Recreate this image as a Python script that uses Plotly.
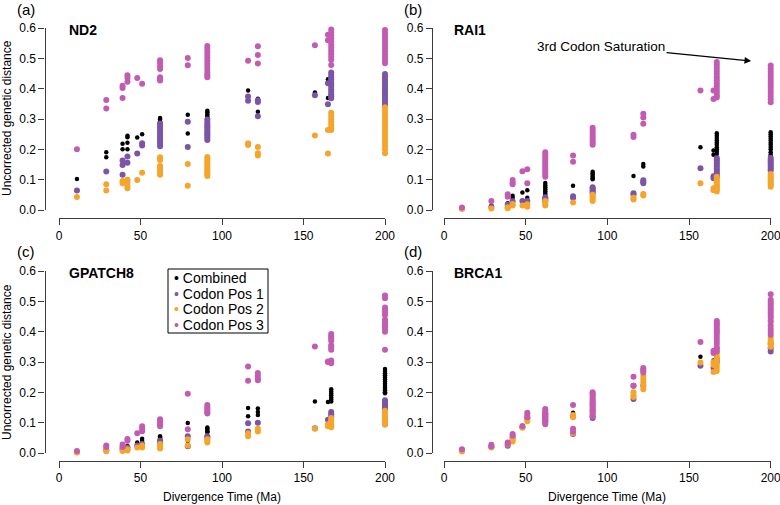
import plotly.graph_objects as go

W, H = 780, 505

# ---------------- data (divergence time Ma -> list of distances) ----------------
ND2_combined = {11: [0.102], 29: [0.19, 0.174], 39: [0.218, 0.200], 42: [0.245, 0.240, 0.222, 0.200],
                48: [0.239], 51: [0.250], 62: [0.303, 0.298, 0.292, 0.285, 0.278, 0.27, 0.262],
                79: [0.314, 0.252], 91: [0.327, 0.322, 0.316, 0.31, 0.305, 0.298, 0.29],
                116: [0.394], 122: [0.367, 0.360, 0.324], 157: [0.387], 165: [0.431, 0.369],
                167: [0.44, 0.42, 0.40], 200: [0.42, 0.40, 0.38, 0.36, 0.346]}
ND2_pos1 = {11: [0.064], 29: [0.127], 39: [0.163, 0.148, 0.116], 42: [0.176, 0.156], 48: [0.186],
            51: [0.220, 0.213],
            62: [0.285, 0.278, 0.27, 0.262, 0.255, 0.248, 0.24, 0.232, 0.225, 0.218, 0.21],
            79: [0.291, 0.208],
            91: [0.298, 0.29, 0.283, 0.276, 0.27, 0.263, 0.256, 0.25, 0.244, 0.237, 0.231],
            116: [0.374, 0.360], 122: [0.362, 0.356, 0.309], 157: [0.378], 165: [0.418, 0.349],
            167: [0.453, 0.445, 0.437, 0.43, 0.422, 0.414, 0.406, 0.398, 0.39, 0.382, 0.375, 0.368],
            200: [0.448, 0.44, 0.432, 0.424, 0.416, 0.408, 0.4, 0.392, 0.384, 0.376, 0.368, 0.36, 0.352, 0.346]}
ND2_pos2 = {11: [0.043], 29: [0.085, 0.064], 39: [0.096, 0.088], 42: [0.100, 0.092, 0.080, 0.072],
            48: [0.099], 51: [0.123], 62: [0.174, 0.165, 0.145, 0.14, 0.132, 0.125, 0.12, 0.116],
            79: [0.152, 0.080], 91: [0.175, 0.168, 0.16, 0.152, 0.145, 0.138, 0.13, 0.124, 0.118, 0.112],
            116: [0.220, 0.214], 122: [0.208, 0.187, 0.180], 157: [0.246], 165: [0.264, 0.186],
            167: [0.321, 0.31, 0.3, 0.29, 0.28, 0.27, 0.264],
            200: [0.339, 0.33, 0.32, 0.31, 0.3, 0.29, 0.28, 0.27, 0.26, 0.25, 0.24, 0.23, 0.22, 0.21, 0.2, 0.187]}
ND2_pos3 = {11: [0.200], 29: [0.363, 0.335], 39: [0.410, 0.402, 0.369], 42: [0.444, 0.435, 0.423],
            48: [0.435], 51: [0.416], 62: [0.494, 0.485, 0.474, 0.465, 0.438, 0.432, 0.427],
            79: [0.501, 0.477],
            91: [0.541, 0.532, 0.522, 0.512, 0.502, 0.492, 0.482, 0.472, 0.462, 0.452, 0.444, 0.438],
            116: [0.609, 0.492], 122: [0.540, 0.511, 0.483], 157: [0.543], 165: [0.613, 0.578, 0.56],
            167: [0.616, 0.605, 0.595, 0.585, 0.575, 0.565, 0.555, 0.545, 0.535, 0.525, 0.515, 0.505, 0.495, 0.478],
            200: [0.613, 0.603, 0.593, 0.583, 0.573, 0.563, 0.553, 0.543, 0.533, 0.523, 0.513, 0.503, 0.494, 0.484]}

RAI1_combined = {11: [0.006], 29: [0.015], 39: [0.022], 42: [0.047, 0.040], 48: [0.058], 51: [0.065, 0.040],
                 62: [0.089, 0.082, 0.075, 0.068, 0.062, 0.056, 0.05], 79: [0.080],
                 91: [0.126, 0.12, 0.115, 0.11, 0.105, 0.101], 116: [0.112], 122: [0.152, 0.143],
                 157: [0.207], 165: [0.196, 0.182],
                 167: [0.253, 0.245, 0.237, 0.23, 0.222, 0.215, 0.207, 0.2, 0.192, 0.185],
                 200: [0.256, 0.25, 0.243, 0.236, 0.229, 0.222, 0.215, 0.208, 0.2, 0.19, 0.182, 0.178]}
RAI1_pos1 = {11: [0.005], 29: [0.01], 39: [0.018], 42: [0.029], 48: [0.030], 51: [0.030],
             62: [0.042, 0.038, 0.034, 0.03], 79: [0.045, 0.040], 91: [0.075, 0.07, 0.065, 0.06, 0.055],
             116: [0.055, 0.050], 122: [0.098, 0.093, 0.088], 157: [0.138], 165: [0.111, 0.105],
             167: [0.171, 0.164, 0.157, 0.15, 0.143, 0.136, 0.129, 0.122, 0.115, 0.11],
             200: [0.172, 0.166, 0.16, 0.154, 0.148, 0.142, 0.136, 0.13]}
RAI1_pos2 = {11: [0.004], 29: [0.005], 39: [0.009, 0.006], 42: [0.020, 0.015], 48: [0.015], 51: [0.019, 0.011],
             62: [0.03, 0.025, 0.02, 0.015], 79: [0.025], 91: [0.05, 0.045, 0.04, 0.035, 0.03],
             116: [0.040, 0.035], 122: [0.053, 0.048], 157: [0.088], 165: [0.072, 0.065],
             167: [0.11, 0.104, 0.098, 0.092, 0.086, 0.08, 0.074, 0.068, 0.061],
             200: [0.119, 0.113, 0.107, 0.101, 0.095, 0.089, 0.083, 0.077]}
RAI1_pos3 = {11: [0.008], 29: [0.030], 39: [0.052, 0.044], 42: [0.099, 0.090, 0.085], 48: [0.128],
             51: [0.134, 0.088],
             62: [0.19, 0.182, 0.174, 0.166, 0.158, 0.15, 0.142, 0.134, 0.126, 0.118, 0.11],
             79: [0.180, 0.159], 91: [0.271, 0.262, 0.254, 0.246, 0.238, 0.23, 0.222, 0.215],
             116: [0.248, 0.241], 122: [0.317, 0.305, 0.284], 157: [0.394], 165: [0.394, 0.366],
             167: [0.488, 0.478, 0.468, 0.458, 0.448, 0.438, 0.428, 0.418, 0.408, 0.398, 0.388, 0.378, 0.371],
             200: [0.476, 0.466, 0.456, 0.446, 0.436, 0.426, 0.416, 0.406, 0.396, 0.386, 0.376, 0.366, 0.355]}

GPATCH8_combined = {11: [0.004], 29: [0.015], 39: [0.02], 42: [0.023], 48: [0.035], 51: [0.047, 0.040],
                    62: [0.055, 0.051, 0.048, 0.045], 79: [0.099, 0.040], 91: [0.084, 0.08, 0.076, 0.072, 0.068],
                    116: [0.148, 0.121], 122: [0.147, 0.135, 0.125], 157: [0.170], 165: [0.168],
                    167: [0.21, 0.203, 0.196, 0.19, 0.183, 0.176, 0.17],
                    200: [0.277, 0.27, 0.263, 0.256, 0.249, 0.242, 0.235, 0.228, 0.221, 0.214, 0.207, 0.2, 0.197]}
GPATCH8_pos1 = {11: [0.003], 29: [0.01], 39: [0.015], 42: [0.018], 48: [0.025], 51: [0.03],
                62: [0.04, 0.035, 0.03], 79: [0.055, 0.022], 91: [0.055, 0.05], 116: [0.098, 0.071],
                122: [0.100], 157: [0.082], 165: [0.110], 167: [0.135, 0.128, 0.12],
                200: [0.174, 0.168, 0.162, 0.156, 0.15, 0.145]}
GPATCH8_pos2 = {11: [0.002], 29: [0.008, 0.006], 39: [0.010, 0.007], 42: [0.012, 0.008], 48: [0.018],
                51: [0.025, 0.018], 62: [0.03, 0.025, 0.02, 0.015], 79: [0.045, 0.025], 91: [0.045, 0.04, 0.035],
                116: [0.065, 0.055], 122: [0.080, 0.071], 157: [0.080], 165: [0.095, 0.088],
                167: [0.115, 0.108, 0.1, 0.092, 0.085],
                200: [0.139, 0.133, 0.127, 0.121, 0.115, 0.109, 0.103, 0.097, 0.093]}
GPATCH8_pos3 = {11: [0.007], 29: [0.025, 0.020], 39: [0.028, 0.020], 42: [0.046, 0.040], 48: [0.065],
                51: [0.088, 0.080, 0.072], 62: [0.111, 0.106, 0.1, 0.094, 0.088], 79: [0.195, 0.078],
                91: [0.158, 0.152, 0.146, 0.14, 0.134, 0.13], 116: [0.285, 0.238],
                122: [0.264, 0.255, 0.245, 0.240], 157: [0.351], 165: [0.302, 0.300],
                167: [0.392, 0.385, 0.378, 0.37, 0.355, 0.348, 0.34, 0.305, 0.296],
                200: [0.519, 0.51, 0.48, 0.472, 0.465, 0.455, 0.44, 0.432, 0.425, 0.418, 0.41, 0.4, 0.34]}

BRCA1_combined = {11: [0.008], 29: [0.022], 39: [0.028], 42: [0.048], 48: [0.085], 51: [0.125], 62: [0.12],
                  79: [0.133], 91: [0.13], 116: [0.2], 122: [0.229], 157: [0.317], 165: [0.305],
                  167: [0.39, 0.352, 0.303], 200: [0.44, 0.42, 0.4, 0.38, 0.36]}
BRCA1_pos1 = {11: [0.008], 29: [0.020], 39: [0.024], 42: [0.050], 48: [0.085], 51: [0.115],
              62: [0.13, 0.12, 0.11], 79: [0.12, 0.063], 91: [0.13, 0.122, 0.115], 116: [0.222, 0.178],
              122: [0.222], 157: [0.288], 165: [0.280], 167: [0.31, 0.3], 200: [0.36, 0.345, 0.335]}
BRCA1_pos2 = {11: [0.005], 29: [0.018], 39: [0.028], 42: [0.045, 0.038], 48: [0.083], 51: [0.110, 0.105],
              62: [0.125, 0.115, 0.105], 79: [0.125, 0.118, 0.065], 91: [0.185, 0.16, 0.14, 0.125],
              116: [0.200, 0.190, 0.185], 122: [0.255, 0.245, 0.235, 0.225, 0.21], 157: [0.298],
              165: [0.300, 0.290, 0.267], 167: [0.35, 0.34, 0.33, 0.32, 0.31, 0.3, 0.29, 0.28, 0.27],
              200: [0.432, 0.38, 0.372, 0.365, 0.358, 0.35]}
BRCA1_pos3 = {11: [0.012], 29: [0.027, 0.022], 39: [0.035, 0.030], 42: [0.063, 0.058], 48: [0.089],
              51: [0.133, 0.125, 0.118],
              62: [0.145, 0.14, 0.135, 0.13, 0.125, 0.12, 0.115, 0.11, 0.105, 0.1, 0.095],
              79: [0.158, 0.080, 0.070],
              91: [0.2, 0.195, 0.19, 0.18, 0.175, 0.17, 0.165, 0.16, 0.155, 0.15, 0.145, 0.14, 0.135, 0.12],
              116: [0.251, 0.222], 122: [0.28, 0.275, 0.27, 0.265], 157: [0.366], 165: [0.337, 0.330],
              167: [0.435, 0.428, 0.42, 0.412, 0.405, 0.398, 0.39, 0.38, 0.37, 0.36, 0.345, 0.335],
              200: [0.523, 0.505, 0.498, 0.49, 0.482, 0.475, 0.468, 0.46, 0.452, 0.445, 0.435, 0.42, 0.41, 0.4, 0.39]}

GENES = ["ND2", "RAI1", "GPATCH8", "BRCA1"]
PANEL_LABELS = ["(a)", "(b)", "(c)", "(d)"]
SERIES_NAMES = ["Combined", "Codon Pos 1", "Codon Pos 2", "Codon Pos 3"]
PANEL_DATA = [
    [ND2_combined, ND2_pos1, ND2_pos2, ND2_pos3],
    [RAI1_combined, RAI1_pos1, RAI1_pos2, RAI1_pos3],
    [GPATCH8_combined, GPATCH8_pos1, GPATCH8_pos2, GPATCH8_pos3],
    [BRCA1_combined, BRCA1_pos1, BRCA1_pos2, BRCA1_pos3],
]
X_TICKS = [0, 50, 100, 150, 200]
Y_TICKS = [0.0, 0.1, 0.2, 0.3, 0.4, 0.5, 0.6]
Y_TICK_TEXT = ["0.0", "0.1", "0.2", "0.3", "0.4", "0.5", "0.6"]

# ---------------- styles ----------------
COLORS = ["#000000", "#7B55A6", "#F5A52B", "#C25CB2"]
SIZES = [4.5, 6, 6, 6]
FONT = "Liberation Sans, Arial, Helvetica, sans-serif"
AXC = "#3c3c3c"

def px(x):
    return x / W

def py(y):
    return 1 - y / H

# pixel geometry of each panel: x0px, x200px, ytop(0.6), ybot(0.0), yaxis_x, xaxis_y
GEOM = [
    (59, 385, 28, 210, 44.5, 218),
    (444, 770.7, 28, 210, 432, 218),
    (59, 385, 271, 453, 44.5, 460.5),
    (444, 770.7, 271, 453, 432, 460.5),
]

fig = go.Figure()
for i, series in enumerate(PANEL_DATA):
    xa = "x" if i == 0 else f"x{i+1}"
    ya = "y" if i == 0 else f"y{i+1}"
    for j, d in enumerate(series):
        xs, ys = [], []
        for t, vals in d.items():
            for v in vals:
                xs.append(t)
                ys.append(v)
        fig.add_trace(go.Scatter(
            x=xs, y=ys, mode="markers", xaxis=xa, yaxis=ya,
            name=SERIES_NAMES[j], showlegend=False, cliponaxis=False,
            marker=dict(color=COLORS[j], size=SIZES[j], line=dict(width=0)),
            hoverinfo="x+y"))

layout = dict(
    width=W, height=H, paper_bgcolor="white", plot_bgcolor="white",
    margin=dict(l=0, r=0, t=0, b=0, pad=0),
    font=dict(family=FONT, size=12, color="black"),
    showlegend=False,
)
annotations = []
for i, (x0, x1, yt, yb, yax, xay) in enumerate(GEOM):
    k = "" if i == 0 else str(i + 1)
    layout["xaxis" + k] = dict(
        domain=[px(x0), px(x1)], range=[0, 200], anchor="free", position=py(xay),
        tickvals=X_TICKS, ticks="outside", ticklen=6, tickwidth=1.2, tickcolor=AXC,
        showline=True, linecolor=AXC, linewidth=1.2, showgrid=False, zeroline=False,
        ticklabeloverflow="allow",
        tickfont=dict(size=12, color="black", family=FONT), automargin=False)
    layout["yaxis" + k] = dict(
        domain=[py(yb), py(yt)], range=[0, 0.6], anchor="free", position=px(yax),
        tickvals=Y_TICKS, ticktext=Y_TICK_TEXT, ticks="outside", ticklen=6, tickwidth=1.2,
        tickcolor=AXC, showline=True, linecolor=AXC, linewidth=1.2, showgrid=False,
        zeroline=False, ticklabeloverflow="allow",
        tickfont=dict(size=12, color="black", family=FONT), automargin=False)
    # gene name
    annotations.append(dict(text=f"<b>{GENES[i]}</b>", xref="paper", yref="paper",
                            x=px(x0 + 8), y=py(yt + 2), xanchor="left", yanchor="middle",
                            showarrow=False, font=dict(size=14, family=FONT, color="black")))
    # panel label
    annotations.append(dict(text=PANEL_LABELS[i], xref="paper", yref="paper",
                            x=px(26 if x0 < 100 else 413), y=py(9 if yt < 100 else 251),
                            xanchor="center", yanchor="middle", showarrow=False,
                            font=dict(size=15, family=FONT, color="black")))

# axis titles
for yc in (118, 362):
    annotations.append(dict(text="Uncorrected genetic distance", xref="paper", yref="paper",
                            x=px(7), y=py(yc), textangle=-90, showarrow=False,
                            xanchor="center", yanchor="middle", font=dict(size=12, family=FONT)))
for xc in (222, 607):
    annotations.append(dict(text="Divergence Time (Ma)", xref="paper", yref="paper",
                            x=px(xc), y=py(497), showarrow=False,
                            xanchor="center", yanchor="middle", font=dict(size=12, family=FONT)))

# arrow annotation in panel (b)
annotations.append(dict(text="3rd Codon Saturation", xref="x2", yref="y2", x=188, y=0.491,
                        ax=-150, ay=-15, axref="pixel", ayref="pixel", showarrow=True,
                        arrowhead=2, arrowsize=1.1, arrowwidth=1.2, arrowcolor="black",
                        font=dict(size=13.5, family=FONT, color="black")))

# legend (drawn in panel c)
leg_y = [278, 293.6, 309.2, 324.8]
for j, name in enumerate(SERIES_NAMES):
    annotations.append(dict(
        text=f"<span style='color:{COLORS[j]}'>•</span> {name}", xref="paper", yref="paper",
        x=px(173), y=py(leg_y[j]), xanchor="left", yanchor="middle", showarrow=False,
        height=12, borderpad=0, valign="middle",
        font=dict(size=14, family=FONT, color="black")))

layout["annotations"] = annotations
layout["shapes"] = [dict(type="rect", xref="paper", yref="paper", x0=px(168), x1=px(268),
                         y0=py(333), y1=py(269), line=dict(color="black", width=1))]
fig.update_layout(**layout)
fig.write_html("out.html", config={"displayModeBar": False},
               post_script="document.body.style.margin='0px';document.body.style.overflow='hidden';")
